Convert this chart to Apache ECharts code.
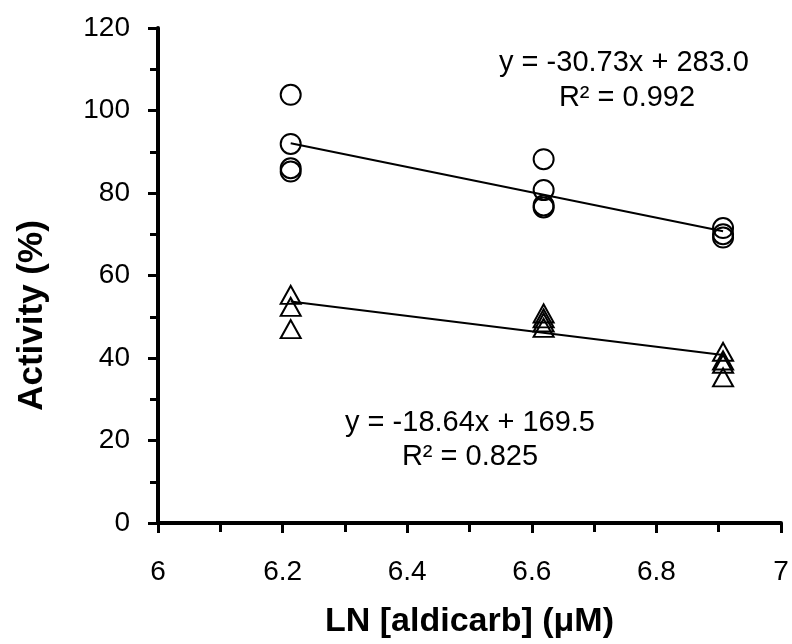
<!DOCTYPE html>
<html>
<head>
<meta charset="utf-8">
<script src="https://cdn.jsdelivr.net/npm/echarts@6/dist/echarts.min.js"></script>
<style>
  html, body { margin: 0; padding: 0; background: #fff; }
  #chart { width: 792px; height: 644px; }
</style>
</head>
<body>
<div id="chart"></div>
<script>
// ln of aldicarb concentration for the three doses
var xLevels = [6.213, 6.619, 6.907];
// circles (upper group), one array per dose
var circleValues = [
  [103.8, 91.9, 86.0, 85.2],
  [88.2, 80.7, 77.0, 76.5],
  [71.5, 70.0, 69.2]
];
// triangles (lower group)
var triangleValues = [
  [55.3, 52.4, 47.0],
  [50.8, 49.6, 48.6, 47.3],
  [41.5, 39.4, 38.6, 35.3]
];
// linear trendlines
var slopes = [-30.73, -18.64];
var intercepts = [283.0, 169.5];
var eqLabels = ['y = -30.73x + 283.0', 'y = -18.64x + 169.5'];
var r2Labels = ['R\u00b2 = 0.992', 'R\u00b2 = 0.825'];
var xTicks = ['6', '6.2', '6.4', '6.6', '6.8', '7'];

function points(groups) {
  var out = [];
  groups.forEach(function (vals, i) {
    vals.forEach(function (v) { out.push([xLevels[i], v]); });
  });
  return out;
}
function fitLine(k) {
  var a = xLevels[0], b = xLevels[xLevels.length - 1];
  return [[a, slopes[k] * a + intercepts[k]], [b, slopes[k] * b + intercepts[k]]];
}

var FONT = '"Liberation Sans", Arial, sans-serif';
var chart = echarts.init(document.getElementById('chart'));

// hollow black markers (scatter defaults to opacity 0.8, so force 1)
var markerStyle = {
  color: 'rgba(0,0,0,0)',
  borderColor: '#000',
  borderWidth: 2,
  opacity: 1
};

function eqText(x, y, txt) {
  return {
    type: 'text', x: x, y: y, silent: true,
    style: { text: txt, font: '29px ' + FONT, fill: '#000', align: 'center', verticalAlign: 'middle' }
  };
}

chart.setOption({
  backgroundColor: '#fff',
  animation: false,
  grid: { left: 158, right: 11, top: 28, bottom: 121 },
  xAxis: {
    type: 'value',
    min: 6, max: 7, interval: 0.2,
    name: 'LN [aldicarb] (\u03bcM)',
    nameLocation: 'middle',
    nameGap: 82,
    nameTextStyle: { fontFamily: FONT, fontSize: 34, fontWeight: 'bold', color: '#000' },
    axisLine: { lineStyle: { color: '#000', width: 4 } },
    axisTick: { show: true, length: 10, lineStyle: { color: '#000', width: 3 } },
    minorTick: { show: true, splitNumber: 2, length: 9, lineStyle: { color: '#000', width: 3 } },
    splitLine: { show: false },
    axisLabel: {
      margin: 35, fontFamily: FONT, fontSize: 28, color: '#000',
      formatter: function (v) { return xTicks[Math.round((v - 6) / 0.2)]; }
    }
  },
  yAxis: {
    type: 'value',
    min: 0, max: 120, interval: 20,
    name: 'Activity (%)',
    nameLocation: 'middle',
    nameRotate: 90,
    nameGap: 108,
    nameTextStyle: {
      fontFamily: FONT, fontSize: 35, fontWeight: 'bold', color: '#000',
      padding: [0, 80, 0, 0]
    },
    axisLine: { show: true, lineStyle: { color: '#000', width: 4 } },
    axisTick: { show: true, length: 10, lineStyle: { color: '#000', width: 3 } },
    minorTick: { show: true, splitNumber: 2, length: 8, lineStyle: { color: '#000', width: 3 } },
    splitLine: { show: false },
    axisLabel: { margin: 28, fontFamily: FONT, fontSize: 28, color: '#000' }
  },
  series: [
    {
      type: 'line', data: fitLine(0), symbol: 'none', silent: true,
      lineStyle: { color: '#000', width: 2 }, z: 1
    },
    {
      type: 'line', data: fitLine(1), symbol: 'none', silent: true,
      lineStyle: { color: '#000', width: 2 }, z: 1
    },
    {
      type: 'scatter', data: points(circleValues),
      symbol: 'circle', symbolSize: 20, itemStyle: markerStyle, z: 2
    },
    {
      type: 'scatter', data: points(triangleValues),
      symbol: 'triangle', symbolSize: [20, 18], itemStyle: markerStyle, z: 2
    }
  ],
  graphic: [
    eqText(624, 63, eqLabels[0]),
    eqText(627, 98, r2Labels[0]),
    eqText(470, 423, eqLabels[1]),
    eqText(470, 457, r2Labels[1])
  ]
});
</script>
</body>
</html>
